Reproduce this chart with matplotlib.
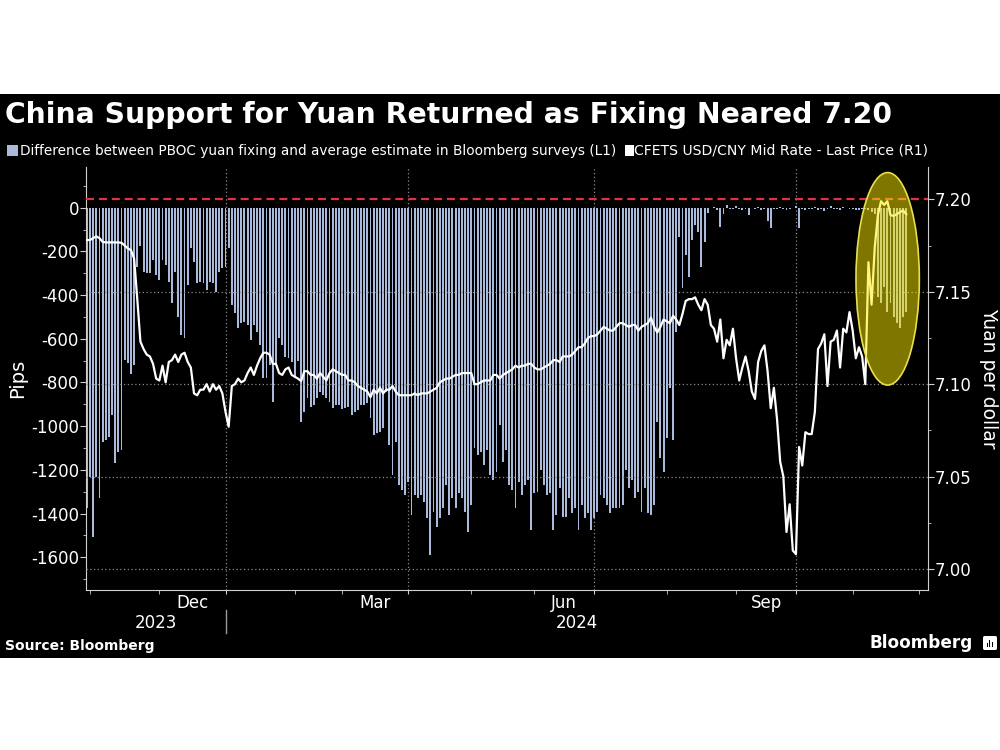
import matplotlib
matplotlib.use("Agg")
import matplotlib.pyplot as plt
import matplotlib.transforms as mtransforms
from matplotlib.patches import Ellipse, Rectangle, FancyBboxPatch
from matplotlib.lines import Line2D
from matplotlib.ticker import MultipleLocator, FormatStrFormatter
import numpy as np
import pandas as pd

plt.rcParams["font.family"] = ["DejaVu Sans"]
plt.rcParams["axes.unicode_minus"] = False

TITLE = "China Support for Yuan Returned as Fixing Neared 7.20"
BAR_LABEL = "Difference between PBOC yuan fixing and average estimate in Bloomberg surveys (L1)"
LINE_LABEL = "CFETS USD/CNY Mid Rate - Last Price (R1)"

# onshore trading calendar (weekdays minus mainland holidays)
CN_HOLIDAYS = ["2024-01-01", "2024-02-09", "2024-02-12", "2024-02-13", "2024-02-14",
               "2024-02-15", "2024-02-16", "2024-04-04", "2024-04-05", "2024-05-01",
               "2024-05-02", "2024-05-03", "2024-06-10", "2024-09-16", "2024-09-17",
               "2024-10-01", "2024-10-02", "2024-10-03", "2024-10-04", "2024-10-07"]

# fixing minus survey estimate, pips, one value per trading day from 2023-10-31
GAP_PIPS = [
    -1376, -1231, -1506, -1231, -1330, -1071, -1063, -1048, -949, -1170, -1117, -1109,
    -697, -711, -761, -720,
    -270, -175, -293, -300, -300, -239, -308, -331, -239, -262, -338, -438, -293, -499,
    -583, -598, -354, -186, -247, -346, -338, -346, -377, -338, -346, -384, -293, -277,
    -270, -186, -445, -483, -552, -529, -522, -537, -606, -537, -567, -628, -781, -781,
    -720, -888, -720, -598, -628, -682, -690, -705, -781, -700,
    -979, -933, -872, -911, -903, -872, -842, -857, -872, -888, -918, -903, -903, -920,
    -918, -911, -949, -933, -926, -903, -903, -895, -964, -1040, -1033, -1025, -1010, -842,
    -1086, -1223, -1071, -1269, -1290, -1315, -1254, -1407, -1315, -1330, -1315, -1345,
    -1422, -1590, -1391, -1460, -1422, -1376, -1269, -1407, -1330, -1376, -1307, -1330,
    -1391, -1483, -1361, -1101, -1132, -1117, -1178, -1109, -1223, -1246, -1208, -995,
    -1162, -1109, -1269,
    -1292, -1376, -1254, -1315, -1269, -1246, -1475, -1307, -1300, -1200, -1269, -1315,
    -1307, -1475, -1407, -1284, -1414, -1414, -1330, -1399, -1376, -1475, -1361, -1422,
    -1399, -1475, -1422, -1391, -1315, -1330, -1361, -1399, -1376, -1376, -1376, -1361,
    -1200, -1284, -1246, -1330, -1300, -1391, -1284, -1399, -1407, -1361, -979, -1147,
    -1208, -1056, -827, -1063, -567,
    -133, -369, -216, -316, -148, -79, -110, -270, -155, -26, -3, 5, -10,
    -87, -30, 12, -5, -8, 6, -4, -10, -6, -33, -3, -8, 4, -12, -5, -60, -94, -4, -6, 3,
    -8, -10, -5, -3, 8, -94, -6, -12, -4, -8, 5, -10, -6, -15, -4, 6, -8, -5, -10, 4,
    -3, -8, -6, -10, -12, -5, -8, -10, -20, -30,
    -407, -437, -361, -476, -437, -500, -529, -552, -499, -476,
]

# USD/CNY mid rate, same trading days
MID_RATE = [
    7.178, 7.178, 7.179, 7.180, 7.179, 7.177, 7.1767, 7.1767, 7.1767, 7.1767, 7.1767,
    7.1765, 7.175, 7.1735, 7.1725,
    7.168, 7.146, 7.123, 7.119, 7.116, 7.115, 7.111, 7.103, 7.102, 7.110, 7.101, 7.112,
    7.113, 7.116, 7.112, 7.116, 7.117, 7.112, 7.109, 7.095, 7.094, 7.097, 7.097, 7.100,
    7.096, 7.100, 7.097, 7.099, 7.095, 7.085, 7.077, 7.099, 7.100, 7.103, 7.101, 7.102,
    7.106, 7.109, 7.105, 7.110, 7.114, 7.117, 7.117, 7.116, 7.111, 7.111, 7.106, 7.105,
    7.108, 7.109, 7.105, 7.104, 7.103,
    7.1017, 7.107, 7.107, 7.105, 7.105, 7.103, 7.106, 7.104, 7.102, 7.106, 7.108, 7.107,
    7.106, 7.105, 7.105, 7.102, 7.102, 7.101, 7.099, 7.098, 7.097, 7.096, 7.093, 7.097,
    7.095, 7.098, 7.095, 7.097, 7.097, 7.099, 7.096, 7.094, 7.094, 7.094, 7.094, 7.094,
    7.095, 7.094, 7.095, 7.095, 7.095, 7.096, 7.097, 7.098, 7.101, 7.102, 7.103, 7.103,
    7.104, 7.105, 7.105, 7.106, 7.106, 7.106, 7.106, 7.100, 7.100, 7.101, 7.102, 7.102,
    7.102, 7.105, 7.105, 7.103, 7.105, 7.106, 7.107,
    7.108, 7.110, 7.109, 7.110, 7.110, 7.111, 7.111, 7.109, 7.108, 7.108, 7.109, 7.110,
    7.111, 7.113, 7.113, 7.112, 7.115, 7.115, 7.115, 7.116, 7.118, 7.120, 7.120, 7.122,
    7.125, 7.126, 7.126, 7.127, 7.129, 7.131, 7.130, 7.129, 7.129, 7.131, 7.133, 7.133,
    7.132, 7.131, 7.132, 7.132, 7.129, 7.131, 7.132, 7.133, 7.136, 7.131, 7.128, 7.131,
    7.135, 7.134, 7.133, 7.137, 7.135, 7.132, 7.138, 7.145, 7.146, 7.146, 7.147, 7.143,
    7.140, 7.146, 7.143, 7.132, 7.130, 7.123, 7.135,
    7.114, 7.124, 7.121, 7.130, 7.114, 7.102, 7.109, 7.115, 7.107, 7.096, 7.092, 7.112,
    7.118, 7.121, 7.107, 7.087, 7.098, 7.081, 7.058, 7.050, 7.020, 7.035, 7.010, 7.008,
    7.066, 7.056, 7.074, 7.073, 7.073, 7.085, 7.119, 7.122, 7.127, 7.099, 7.123, 7.124,
    7.129, 7.109, 7.130, 7.128, 7.139, 7.129, 7.114, 7.120, 7.115, 7.100, 7.166, 7.143,
    7.174, 7.1915, 7.199, 7.197, 7.199, 7.1915, 7.191, 7.192, 7.193, 7.194, 7.192,
]

MONTH_LABELS = ["Dec", "Mar", "Jun", "Sep"]
LABEL_MONTHS = [(2023, 12), (2024, 3), (2024, 6), (2024, 9)]
YEAR_LABELS = ["2023", "2024"]

BAR_COLOR = "#a9badb"
AXIS_COLOR = "#cfcfcf"
GRID_COLOR = "#8a8a8a"

days = pd.bdate_range("2023-10-31", "2024-12-31", freq="C", holidays=CN_HOLIDAYS)
x = np.arange(len(GAP_PIPS))

first_idx = {}
for i, d in enumerate(days):
    if (d.year, d.month) not in first_idx:
        first_idx[(d.year, d.month)] = i
month_keys = [k for k in first_idx if k >= (2023, 11)]
quarter_ticks = [first_idx[k] for k in month_keys if k[1] in (1, 4, 7, 10)]
month_ticks = [first_idx[k] for k in month_keys if k[1] not in (1, 4, 7, 10)]

XMIN, XMAX = -0.27, 266.9

fig = plt.figure(figsize=(10, 7.5), dpi=100)
fig.patch.set_facecolor("white")
fig.add_artist(Rectangle((0, 1 - 658 / 750), 1, (658 - 94) / 750, transform=fig.transFigure,
                         facecolor="black", edgecolor="none", zorder=-10))

ax = fig.add_axes([0.086, 0.2133, 0.842, 0.564])
ax.set_facecolor("black")
ax2 = ax.twinx()

ax.bar(x, GAP_PIPS, width=0.6, color=BAR_COLOR, linewidth=0, zorder=2)
ax2.plot(x, MID_RATE, color="white", lw=1.6, zorder=3)
ax2.axhline(7.20, color="#e3323f", lw=1.6, dashes=(3.6, 2.2), zorder=4)

# highlight of the latest weeks
ax2.add_patch(Ellipse((254.1, 7.157), width=20.1, height=0.115, facecolor=(1.0, 0.93, 0.0, 0.5),
                      edgecolor="#e8df50", lw=1.2, zorder=6))

ax.set_xlim(XMIN, XMAX)
ax.set_ylim(-1750, 186)
ax2.set_ylim(6.9886, 7.2175)

ax.set_xticks(quarter_ticks)
ax.set_xticks(month_ticks, minor=True)
ax.tick_params(axis="x", which="both", direction="out", length=3, color=AXIS_COLOR,
               labelbottom=False)
ax.grid(axis="x", which="major", color=GRID_COLOR, linestyle=(0, (1, 2)), lw=0.9)
ax.set_axisbelow(True)

ax.set_yticks(np.arange(-1600, 1, 200))
ax.yaxis.set_minor_locator(MultipleLocator(100))
ax.tick_params(axis="y", which="major", direction="out", length=4, color=AXIS_COLOR,
               labelcolor="white", labelsize=12, pad=1)
ax.tick_params(axis="y", which="minor", direction="out", length=2, color=AXIS_COLOR)

ax2.set_yticks([7.00, 7.05, 7.10, 7.15, 7.20])
ax2.yaxis.set_major_formatter(FormatStrFormatter("%.2f"))
ax2.yaxis.set_minor_locator(MultipleLocator(0.025))
ax2.tick_params(axis="y", which="major", direction="out", length=4, color=AXIS_COLOR,
                labelcolor="white", labelsize=12, pad=1)
ax2.tick_params(axis="y", which="minor", direction="out", length=2, color=AXIS_COLOR)
for t in [7.00, 7.05, 7.10, 7.15]:
    ax2.axhline(t, color=GRID_COLOR, linestyle=(0, (1, 2)), lw=0.9, zorder=1)

for s in ["top", "right"]:
    ax.spines[s].set_visible(False)
for s in ["top", "left", "bottom"]:
    ax2.spines[s].set_visible(False)
for s in ["left", "bottom"]:
    ax.spines[s].set_color(AXIS_COLOR)
ax2.spines["right"].set_color(AXIS_COLOR)

# month and year labels under the axis
trans = mtransforms.blended_transform_factory(ax.transData, fig.transFigure)
for lab, key in zip(MONTH_LABELS, LABEL_MONTHS):
    nxt = (key[0] + key[1] // 12, key[1] % 12 + 1)
    xm = (first_idx[key] + first_idx[nxt]) / 2
    ax.text(xm, 1 - 603 / 750, lab, transform=trans, color="white", fontsize=12,
            ha="center", va="center")
jan = first_idx[(2024, 1)]
ax.text((XMIN + jan) / 2, 1 - 623 / 750, YEAR_LABELS[0], transform=trans, color="white",
        fontsize=12, ha="center", va="center")
ax.text((jan + XMAX) / 2, 1 - 623 / 750, YEAR_LABELS[1], transform=trans, color="white",
        fontsize=12, ha="center", va="center")
fig.add_artist(Line2D([jan, jan], [1 - 610 / 750, 1 - 633 / 750], transform=trans,
                      color="#9a9a9a", lw=1))

fig.text(0.018, 0.495, "Pips", rotation=90, color="white", fontsize=14, ha="center", va="center")
fig.text(0.989, 0.496, "Yuan per dollar", rotation=270, color="white", fontsize=13.5,
         ha="center", va="center")

fig.text(0.005, 1 - 115 / 750, TITLE, color="white", fontsize=20.3, weight="bold",
         ha="left", va="center")

# legend row
fig.add_artist(Rectangle((0.0073, 1 - 156 / 750), 0.011, 11 / 750, transform=fig.transFigure,
                         facecolor=BAR_COLOR, edgecolor="none"))
fig.text(0.0205, 1 - 151 / 750, BAR_LABEL, color="white", fontsize=9.8, ha="left", va="center")
fig.add_artist(Rectangle((0.6245, 1 - 156 / 750), 0.0095, 11 / 750, transform=fig.transFigure,
                         facecolor="white", edgecolor="none"))
fig.text(0.6345, 1 - 151 / 750, LINE_LABEL, color="white", fontsize=10.1, ha="left", va="center")

fig.text(0.005, 1 - 646 / 750, "Source: Bloomberg", color="white", fontsize=10, weight="bold",
         ha="left", va="center")
fig.text(0.973, 1 - 643 / 750, "Bloomberg", color="white", fontsize=12.2, weight="bold",
         ha="right", va="center")
fig.add_artist(FancyBboxPatch((0.983, 1 - 650 / 750), 0.014, 14 / 750, transform=fig.transFigure,
                              boxstyle="round,pad=0.0,rounding_size=0.002",
                              facecolor="white", edgecolor="none"))
for k, h in enumerate([4, 7, 5]):
    fig.add_artist(Rectangle((0.9865 + k * 0.0025, 1 - 647 / 750), 0.0013, h / 750,
                             transform=fig.transFigure, facecolor="black", edgecolor="none"))

fig.savefig("out.png", dpi=100, facecolor="white")
